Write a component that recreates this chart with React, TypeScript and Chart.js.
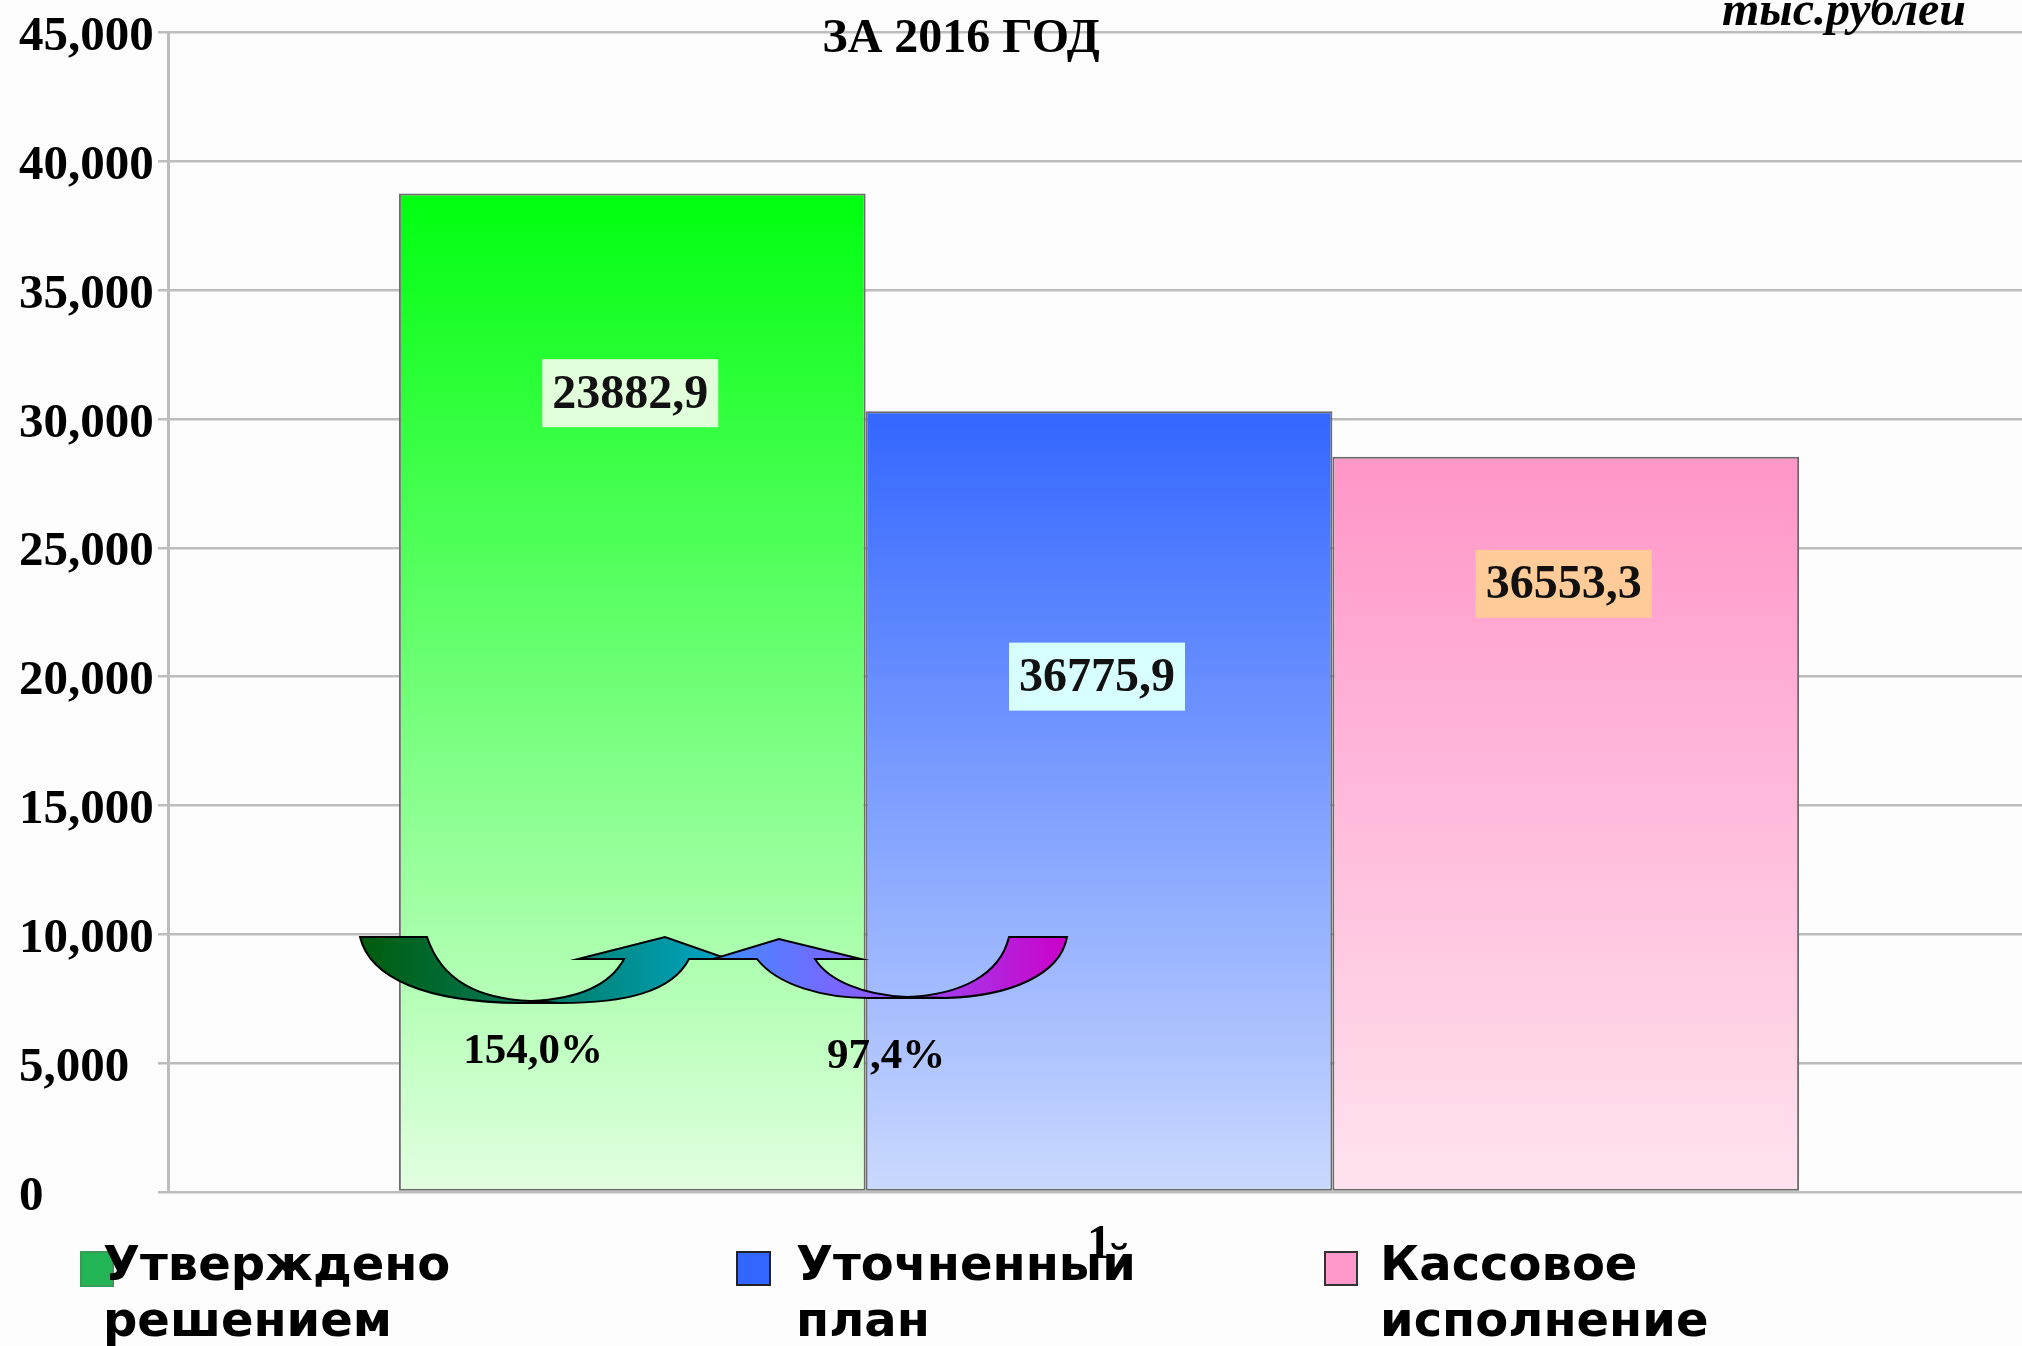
import React, { useEffect, useRef } from 'react';
import { Chart, registerables } from 'chart.js';

Chart.register(...registerables);

// ---- data ----
const categories = ['1'];
const seriesNames = ['Утверждено решением', 'Уточненный план', 'Кассовое исполнение'];
const legendLines = [
  ['Утверждено', 'решением'],
  ['Уточненный', 'план'],
  ['Кассовое', 'исполнение'],
];
const seriesValues = [38750, 30300, 28530];
const barLabels = ['23882,9', '36775,9', '36553,3'];
const barLabelLevels = [31000, 20000, 23600];
const percentLabels = ['154,0%', '97,4%'];
const yMin = 0;
const yMax = 45000;
const yStep = 5000;
const titleText = 'ЗА 2016 ГОД';
const unitText = 'тыс.рублей';

// ---- styles ----
const gradStops = [
  ['#00ff10', '#e2ffe0'],
  ['#3366ff', '#cad9ff'],
  ['#ff96c8', '#ffe3ef'],
];
const labelBg = ['#e2ffdc', '#d8ffff', '#ffcc99'];
const swatchFill = ['#22b455', '#3366ff', '#ff99cc'];
const swatchBorder = ['#3a9a55', '#222222', '#333333'];

const SERIF = '"Liberation Serif", "Times New Roman", serif';
const SANS = '"DejaVu Sans", Verdana, sans-serif';

function fmt(v: number) {
  return v.toLocaleString('en-US');
}

function drawLeftArrow(ctx: CanvasRenderingContext2D) {
  const g = ctx.createLinearGradient(360, 0, 728, 0);
  g.addColorStop(0, '#005c0c');
  g.addColorStop(0.45, '#00785a');
  g.addColorStop(1, '#00a6c8');
  ctx.beginPath();
  ctx.moveTo(360, 937);
  ctx.lineTo(427, 937);
  ctx.bezierCurveTo(442, 982, 480, 999, 531, 1001);
  ctx.bezierCurveTo(578, 999, 610, 985, 624, 959);
  ctx.lineTo(578, 959);
  ctx.lineTo(665, 937);
  ctx.lineTo(728, 959);
  ctx.lineTo(689, 959);
  ctx.bezierCurveTo(672, 992, 625, 1003, 560, 1003);
  ctx.lineTo(520, 1003);
  ctx.bezierCurveTo(425, 1002, 370, 978, 360, 937);
  ctx.closePath();
  ctx.fillStyle = g;
  ctx.fill();
  ctx.lineWidth = 2;
  ctx.strokeStyle = '#000';
  ctx.stroke();
  ctx.beginPath();
  ctx.moveTo(531, 1001);
  ctx.lineTo(560, 1003);
  ctx.stroke();
}

function drawRightArrow(ctx: CanvasRenderingContext2D) {
  const g = ctx.createLinearGradient(713, 0, 1067, 0);
  g.addColorStop(0, '#3d8cff');
  g.addColorStop(0.45, '#8a5cff');
  g.addColorStop(1, '#cc00c8');
  ctx.beginPath();
  ctx.moveTo(1067, 937);
  ctx.lineTo(1009, 937);
  ctx.bezierCurveTo(1000, 975, 960, 995, 907, 997);
  ctx.bezierCurveTo(862, 995, 828, 980, 815, 959);
  ctx.lineTo(861, 959);
  ctx.lineTo(779, 939);
  ctx.lineTo(713, 959);
  ctx.lineTo(757, 959);
  ctx.bezierCurveTo(778, 986, 825, 998, 868, 998);
  ctx.lineTo(946, 998);
  ctx.bezierCurveTo(1010, 996, 1060, 975, 1067, 937);
  ctx.closePath();
  ctx.fillStyle = g;
  ctx.fill();
  ctx.lineWidth = 2;
  ctx.strokeStyle = '#000';
  ctx.stroke();
  ctx.beginPath();
  ctx.moveTo(907, 997);
  ctx.lineTo(946, 998);
  ctx.stroke();
}

const decorPlugin = {
  id: 'decor',
  beforeDraw(chart: any) {
    const ctx = chart.ctx as CanvasRenderingContext2D;
    ctx.save();
    ctx.fillStyle = '#fdfdfd';
    ctx.fillRect(0, 0, chart.width, chart.height);
    ctx.restore();
  },
  afterDatasetsDraw(chart: any) {
    const ctx = chart.ctx as CanvasRenderingContext2D;
    const yScale = chart.scales.y;
    ctx.save();
    ctx.font = `bold 48px ${SERIF}`;
    ctx.textAlign = 'center';
    ctx.textBaseline = 'middle';
    barLabels.forEach((txt, i) => {
      const el = chart.getDatasetMeta(i).data[0];
      if (!el) return;
      const cx = el.x - 2;
      const cy = yScale.getPixelForValue(barLabelLevels[i]);
      const w = 176;
      const h = 68;
      ctx.fillStyle = labelBg[i];
      ctx.fillRect(cx - w / 2, cy - h / 2, w, h);
      ctx.fillStyle = '#111';
      ctx.fillText(txt, cx, cy + 2);
    });
    drawLeftArrow(ctx);
    drawRightArrow(ctx);
    ctx.font = `bold 43px ${SERIF}`;
    ctx.fillStyle = '#000';
    ctx.textAlign = 'center';
    ctx.textBaseline = 'alphabetic';
    ctx.fillText(percentLabels[0], 533, 1063);
    ctx.fillText(percentLabels[1], 886, 1068);
    ctx.restore();
  },
  afterDraw(chart: any) {
    const ctx = chart.ctx as CanvasRenderingContext2D;
    ctx.save();
    ctx.fillStyle = '#000';
    ctx.font = `bold 48px ${SERIF}`;
    ctx.textAlign = 'center';
    ctx.textBaseline = 'alphabetic';
    ctx.fillText(titleText, 961, 52);
    ctx.font = `italic bold 48px ${SERIF}`;
    ctx.textAlign = 'left';
    ctx.fillText(unitText, 1722, 25);
    const sq = [
      [80, 1251, 34, 36],
      [736, 1251, 35, 35],
      [1324, 1251, 34, 35],
    ];
    const textX = [103, 796, 1380];
    legendLines.forEach((lines, i) => {
      const [x, y, w, h] = sq[i];
      ctx.fillStyle = swatchFill[i];
      ctx.fillRect(x, y, w, h);
      ctx.lineWidth = 2;
      ctx.strokeStyle = swatchBorder[i];
      ctx.strokeRect(x + 1, y + 1, w - 2, h - 2);
      ctx.fillStyle = '#000';
      ctx.font = `bold 48px ${SANS}`;
      ctx.textAlign = 'left';
      ctx.fillText(lines[0], textX[i], 1280);
      ctx.fillText(lines[1], textX[i], 1336);
    });
    ctx.restore();
  },
};

export default function App() {
  const ref = useRef<HTMLCanvasElement | null>(null);

  useEffect(() => {
    const canvas = ref.current;
    if (!canvas) return;
    const chart = new Chart(canvas, {
      type: 'bar',
      data: {
        labels: categories,
        datasets: seriesValues.map((v, i) => ({
          label: seriesNames[i],
          data: [v],
          backgroundColor: (c: any) => {
            const ch = c.chart;
            if (!ch.chartArea) return gradStops[i][0];
            const ys = ch.scales.y;
            const top = ys.getPixelForValue(seriesValues[i]);
            const bottom = ys.getPixelForValue(0);
            const g = ch.ctx.createLinearGradient(0, top, 0, bottom);
            g.addColorStop(0, gradStops[i][0]);
            g.addColorStop(1, gradStops[i][1]);
            return g;
          },
          borderColor: '#6b6b6b',
          borderWidth: 2,
          borderSkipped: false,
          categoryPercentage: 0.752,
          barPercentage: 1.0,
        })),
      },
      options: {
        responsive: false,
        animation: false,
        devicePixelRatio: 1,
        layout: { padding: { left: 19, top: 32, right: 10, bottom: 0 } },
        plugins: {
          legend: { display: false },
          title: { display: false },
          tooltip: { enabled: false },
        },
        scales: {
          x: {
            grid: { display: false, drawTicks: false },
            border: { display: false },
            ticks: {
              color: '#000',
              padding: 25,
              font: { family: SERIF, size: 48, weight: 'bold' },
            },
            afterFit: (s: any) => {
              s.height = 154;
            },
          },
          y: {
            min: yMin,
            max: yMax,
            grid: {
              color: '#bdbdbd',
              lineWidth: 2.5,
              tickLength: 10,
              drawTicks: true,
            },
            border: { display: true, color: '#bdbdbd', width: 3 },
            ticks: {
              stepSize: yStep,
              crossAlign: 'far',
              labelOffset: 5,
              color: '#000',
              font: { family: SERIF, size: 49, weight: 'bold' },
              callback: (v: any) => fmt(Number(v)),
            },
            afterFit: (s: any) => {
              s.width = 149;
            },
          },
        },
      },
      plugins: [decorPlugin],
    } as any);
    return () => chart.destroy();
  }, []);

  return (
    <div
      style={{
        position: 'fixed',
        left: 0,
        top: 0,
        width: 2022,
        height: 1346,
        overflow: 'hidden',
        background: '#fdfdfd',
      }}
    >
      <canvas ref={ref} width={2040} height={1346} style={{ width: 2040, height: 1346, display: 'block' }} />
    </div>
  );
}
